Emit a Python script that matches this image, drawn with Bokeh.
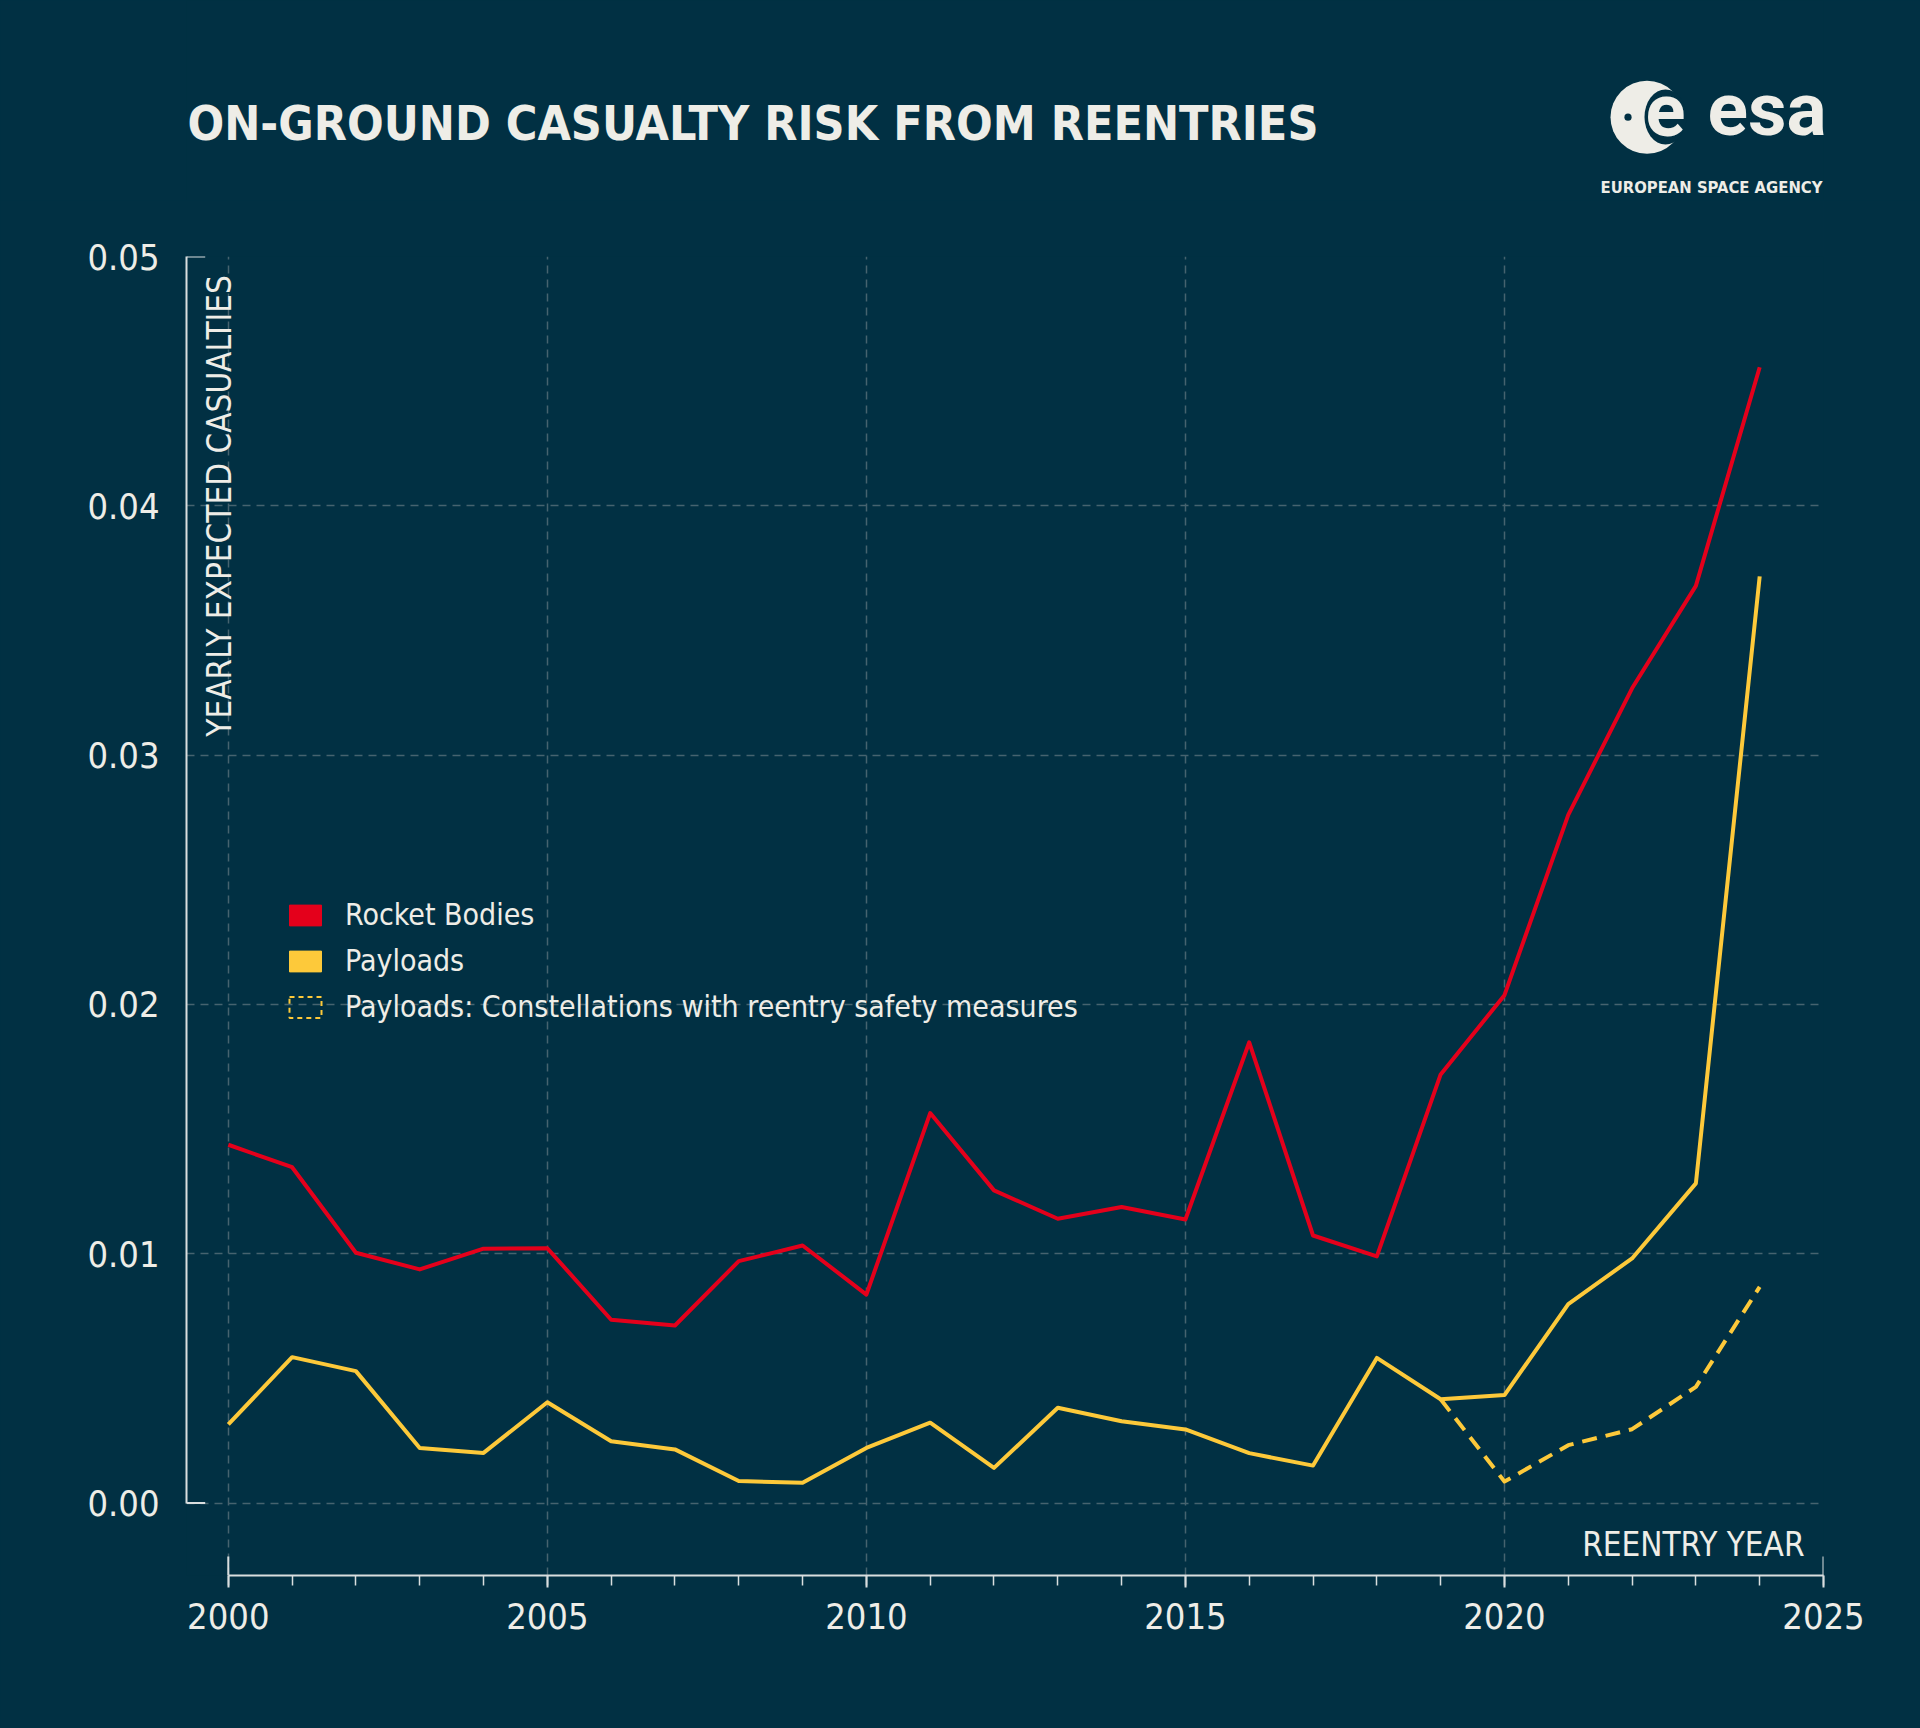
import math
from bokeh.plotting import figure
from bokeh.models import Range1d, FixedTicker, NumeralTickFormatter, Label, Legend, LegendItem
from bokeh.layouts import column
from bokeh.core.properties import value
from bokeh.embed import file_html
from bokeh.resources import INLINE

# ---------------- data ----------------
years = list(range(2000, 2025))
rocket_bodies = [0.01437, 0.01347, 0.01004, 0.00937, 0.01020, 0.01022, 0.00735, 0.00712,
                 0.00970, 0.01033, 0.00836, 0.01564, 0.01254, 0.01140, 0.01187, 0.01137,
                 0.01848, 0.01073, 0.00989, 0.01719, 0.02037, 0.02760, 0.03268, 0.03679,
                 0.04556]
payloads = [0.00315, 0.00585, 0.00529, 0.00221, 0.00201, 0.00404, 0.00248, 0.00215,
            0.00088, 0.00081, 0.00221, 0.00322, 0.00141, 0.00382, 0.00328, 0.00295,
            0.00200, 0.00150, 0.00582, 0.00416, 0.00433, 0.00798, 0.00981, 0.01282,
            0.03717]
constellation_years = [2019, 2020, 2021, 2022, 2023, 2024]
payloads_constellations = [0.00416, 0.00086, 0.00232, 0.00296, 0.00466, 0.00867]
x_ticks = [2000, 2005, 2010, 2015, 2020, 2025]
x_minor_ticks = list(range(2000, 2026))
y_ticks = [0.0, 0.01, 0.02, 0.03, 0.04, 0.05]
legend_labels = ["Rocket Bodies", "Payloads", "Payloads: Constellations with reentry safety measures"]

# ---------------- style ----------------
BG = "#013043"
TXT = "#eeede7"
AX = "#d9dedf"
GRID = "#46636f"
RED = "#e4001b"
YELLOW = "#fdc93a"
COND = "DejaVu Sans Condensed, Roboto, sans-serif"
BASE_SHIFT = 0.4  # em offset between requested and rendered alphabetic baseline

W, H = 1920, 1728
FRAME_L, FRAME_R, FRAME_T, FRAME_B = 186, 1823, 256, 1575


def base(py, size):
    """screen y to request so that the alphabetic baseline lands at py"""
    return py - BASE_SHIFT * size


# ---------------- header (title + logo) ----------------
HEAD_H = 200
h = figure(frame_width=FRAME_R - FRAME_L, frame_height=HEAD_H,
           min_border_left=FRAME_L, min_border_right=W - FRAME_R,
           min_border_top=0, min_border_bottom=0,
           x_range=Range1d(FRAME_L, FRAME_R), y_range=Range1d(HEAD_H, 0),
           x_axis_location=None, y_axis_location=None,
           output_backend="svg", toolbar_location=None,
           background_fill_color=BG, border_fill_color=BG, outline_line_color=None)
h.grid.visible = False

h.text(x=[187], y=[base(142, 48)], text=["ON-GROUND CASUALTY RISK FROM REENTRIES"],
       text_font=value(COND), text_font_style="bold", text_font_size=value("48px"),
       text_color=TXT, text_align="left", text_baseline="alphabetic")

# ESA logo (approximation)
h.circle(x=[1646.5], y=[116.7], radius=36.5, fill_color=TXT, line_color=None)
h.ellipse(x=[1665.0], y=[116.5], width=42, height=55, fill_color=BG, line_color=None)
h.circle(x=[1627.5], y=[116.7], radius=3.6, fill_color=BG, line_color=None)
h.text(x=[1665.0], y=[base(138.3, 74)], text=["e"], text_font=value("Roboto"), text_font_style="bold",
       text_font_size=value("74px"), text_color=TXT, text_align="center", text_baseline="alphabetic")
h.text(x=[1707], y=[base(138.3, 75)], text=["esa"], text_font=value("Roboto"), text_font_style="bold",
       text_font_size=value("75px"), text_color=TXT, text_align="left", text_baseline="alphabetic")
h.text(x=[1822], y=[base(193.3, 16.5)], text=["EUROPEAN SPACE AGENCY"], text_font=value(COND),
       text_font_style="bold", text_font_size=value("16.5px"), text_color=TXT,
       text_align="right", text_baseline="alphabetic")

# ---------------- main chart ----------------
PX_2000 = 227.8
PX_Y0 = 1502.5
PX_PER_YEAR = (FRAME_R - PX_2000) / (x_ticks[-1] - x_ticks[0])
PX_PER_UNIT = (PX_Y0 - FRAME_T) / (y_ticks[-1] - y_ticks[0])
X_START = x_ticks[0] - (PX_2000 - FRAME_L) / PX_PER_YEAR
Y_START = y_ticks[0] - (FRAME_B - PX_Y0) / PX_PER_UNIT


def px2x(px):
    return x_ticks[0] + (px - PX_2000) / PX_PER_YEAR


def px2y(py):
    return y_ticks[0] + (PX_Y0 - py) / PX_PER_UNIT


MAIN_H = H - HEAD_H
top_border = FRAME_T - HEAD_H
frame_h = FRAME_B - FRAME_T
p = figure(frame_width=FRAME_R - FRAME_L, frame_height=frame_h,
           min_border_left=FRAME_L, min_border_right=W - FRAME_R,
           min_border_top=top_border, min_border_bottom=MAIN_H - top_border - frame_h,
           x_range=Range1d(X_START, x_ticks[-1]), y_range=Range1d(Y_START, y_ticks[-1]),
           output_backend="svg", toolbar_location=None,
           background_fill_color=BG, border_fill_color=BG, outline_line_color=None)

# grids
p.xgrid.ticker = FixedTicker(ticks=x_ticks)
p.ygrid.ticker = FixedTicker(ticks=y_ticks)
for g in (p.xgrid, p.ygrid):
    g.grid_line_color = GRID
    g.grid_line_width = 1.5
    g.grid_line_dash = "8 6"

# x axis
xa = p.xaxis[0]
xa.ticker = FixedTicker(ticks=x_ticks, minor_ticks=x_minor_ticks)
xa.bounds = (x_ticks[0], x_ticks[-1])
xa.axis_line_color = AX
xa.axis_line_width = 2
xa.major_tick_line_color = AX
xa.major_tick_line_width = 2
xa.major_tick_in = 0
xa.major_tick_out = 12
xa.minor_tick_line_color = AX
xa.minor_tick_line_width = 1.5
xa.minor_tick_in = 0
xa.minor_tick_out = 10
xa.major_label_text_font = COND
xa.major_label_text_font_size = "36px"
xa.major_label_text_color = TXT
xa.major_label_standoff = 15

# y axis
ya = p.yaxis[0]
ya.ticker = FixedTicker(ticks=y_ticks)
ya.bounds = (y_ticks[0], y_ticks[-1])
ya.formatter = NumeralTickFormatter(format="0.00")
ya.axis_line_color = AX
ya.axis_line_width = 2
ya.major_tick_in = 0
ya.major_tick_out = 0
ya.minor_tick_in = 0
ya.minor_tick_out = 0
ya.major_label_text_font = COND
ya.major_label_text_font_size = "36px"
ya.major_label_text_color = TXT
ya.major_label_standoff = 27

# end ticks of the axes
tick_w = 18.7 / PX_PER_YEAR
p.segment(x0=[X_START, X_START], x1=[X_START + tick_w] * 2,
          y0=[y_ticks[0], y_ticks[-1]], y1=[y_ticks[0], y_ticks[-1]],
          line_color=AX, line_width=2)
tick_h = 19 / PX_PER_UNIT
p.segment(x0=[x_ticks[0], x_ticks[-1]], x1=[x_ticks[0], x_ticks[-1]],
          y0=[Y_START] * 2, y1=[Y_START + tick_h] * 2, line_color=AX, line_width=2)

# series
p.line(years, rocket_bodies, line_color=RED, line_width=4, line_join="round")
p.line(years, payloads, line_color=YELLOW, line_width=4, line_join="round")
p.line(constellation_years, payloads_constellations, line_color=YELLOW, line_width=4,
       line_dash="15 9", line_join="round")

# legend swatches (zero-size rects anchored on the first data point: invisible in the plot)
sw1 = p.rect(x=[years[0]], y=[rocket_bodies[0]], width=0, height=0,
             fill_color=RED, line_color=RED, line_width=1)
sw2 = p.rect(x=[years[0]], y=[payloads[0]], width=0, height=0,
             fill_color=YELLOW, line_color=YELLOW, line_width=1)
sw3 = p.rect(x=[constellation_years[0]], y=[payloads_constellations[0]], width=0, height=0,
             fill_alpha=0, line_color=YELLOW, line_width=2, line_dash="5 4")
legend = Legend(items=[LegendItem(label=value(legend_labels[0]), renderers=[sw1]),
                       LegendItem(label=value(legend_labels[1]), renderers=[sw2]),
                       LegendItem(label=value(legend_labels[2]), renderers=[sw3])],
                location=(99, 551), orientation="vertical",
                glyph_width=40, glyph_height=26, label_height=26, label_standoff=20,
                spacing=11, padding=0, margin=0,
                background_fill_alpha=0, border_line_alpha=0,
                label_text_font=COND, label_text_font_size="30px",
                label_text_color=TXT)
p.add_layout(legend)

# axis titles inside the plot
p.add_layout(Label(x=px2x(1804), y=px2y(base(1557, 33)), text="REENTRY YEAR",
                   text_align="right", text_baseline="alphabetic",
                   text_font=COND, text_font_size="33px", text_color=TXT))
p.add_layout(Label(x=px2x(232.3 - BASE_SHIFT * 33), y=px2y(274.6), text="YEARLY EXPECTED CASUALTIES",
                   angle=math.pi / 2, text_align="right", text_baseline="alphabetic",
                   text_font=COND, text_font_size="33px", text_color=TXT))

layout = column(h, p, spacing=0)
html = file_html(layout, INLINE)
html = html.replace("<head>", "<head><style>html,body{background:%s;margin:0;}</style>" % BG, 1)
open("out.html", "w").write(html)
